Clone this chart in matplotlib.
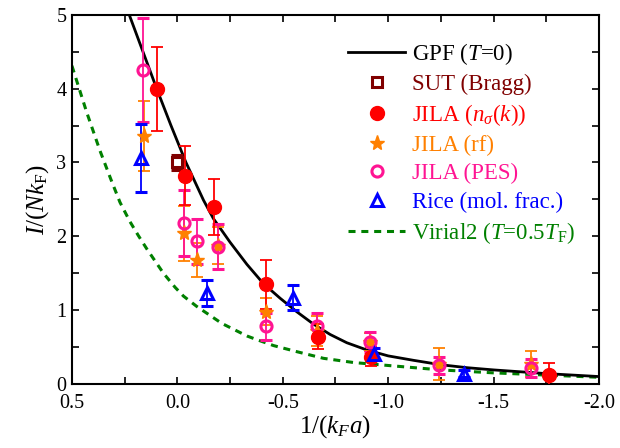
import matplotlib
matplotlib.use("Agg")
import matplotlib.pyplot as plt
from matplotlib.ticker import MultipleLocator, FuncFormatter
from matplotlib.lines import Line2D

plt.rcParams['font.family'] = ['Liberation Serif', 'DejaVu Serif']
plt.rcParams['mathtext.fontset'] = 'custom'
plt.rcParams['mathtext.rm'] = 'Liberation Serif'
plt.rcParams['mathtext.it'] = 'Liberation Serif:italic'
plt.rcParams['mathtext.cal'] = 'Liberation Serif:italic'

# GPF (T=0) curve
gpf_x = [0.26, 0.228, 0.163, 0.098, 0.03, -0.041, -0.08, -0.124, -0.171, -0.218,
         -0.25, -0.33, -0.393, -0.416, -0.488, -0.567, -0.646, -0.725, -0.804,
         -0.899, -1.0, -1.12, -1.25, -1.375, -1.5, -1.625, -1.75, -1.875, -2.0]
gpf_y = [5.25, 5.0, 4.5, 4.0, 3.5, 3.0, 2.76, 2.49, 2.24, 2.05,
         1.92, 1.62, 1.41, 1.34, 1.16, 0.977, 0.81, 0.67, 0.558,
         0.46, 0.38, 0.32, 0.26, 0.22, 0.19, 0.165, 0.14, 0.12, 0.10]

# Virial2 (T=0.5T_F) curve
vir_x = [0.5, 0.43, 0.367, 0.315, 0.272, 0.225, 0.185, 0.145, 0.066, 0.011,
         -0.029, -0.092, -0.211, -0.33, -0.377, -0.456, -0.567, -0.693, -0.836,
         -1.0, -1.25, -1.5, -1.75, -2.0]
vir_y = [4.31, 3.68, 3.16, 2.77, 2.46, 2.2, 2.01, 1.83, 1.5, 1.31,
         1.19, 1.05, 0.82, 0.65, 0.60, 0.52, 0.437, 0.347, 0.29,
         0.25, 0.19, 0.15, 0.12, 0.09]

# SUT (Bragg)
sut_x = [0.003]
sut_y = [3.0]
sut_e = [0.1]

# JILA (n_sigma(k))
nk_x = [0.095, -0.037, -0.176, -0.42, -0.667, -0.92, -1.762]
nk_y = [4.0, 2.82, 2.40, 1.35, 0.64, 0.37, 0.12]
nk_e = [0.57, 0.40, 0.38, 0.33, 0.17, 0.13, 0.16]

# JILA (rf)
rf_x = [0.16, -0.032, -0.092, -0.192, -0.42, -0.662, -0.912, -1.243, -1.68]
rf_y = [3.36, 2.04, 1.68, 1.87, 0.98, 0.72, 0.57, 0.27, 0.27]
rf_e = [0.47, 0.37, 0.23, 0.25, 0.18, 0.20, 0.12, 0.21, 0.18]

# JILA (PES)
pes_x = [0.161, -0.032, -0.092, -0.192, -0.42, -0.662, -0.912, -1.243, -1.68]
pes_y = [4.25, 2.18, 1.93, 1.86, 0.78, 0.79, 0.57, 0.25, 0.22]
pes_e = [0.70, 0.45, 0.31, 0.30, 0.18, 0.17, 0.14, 0.12, 0.12]

# Rice (mol. frac.)
rice_x = [0.174, -0.14, -0.548, -0.935, -1.361]
rice_y = [3.06, 1.23, 1.17, 0.41, 0.14]
rice_e = [0.46, 0.18, 0.17, 0.07, 0.05]

labels = ['GPF ($T$=0)', 'SUT (Bragg)', r'JILA ($n_\sigma(k)$)', 'JILA (rf)',
          'JILA (PES)', 'Rice (mol. frac.)', r'Virial2 ($T$=0.5$T_\mathrm{F}$)']
colors = ['black', '#800000', '#FF0000', '#FF8000', '#FF1493', '#0000FF', '#008000']

fig = plt.figure(figsize=(6.2, 4.48), dpi=100)
ax = fig.add_axes([0.116, 0.143, 0.850, 0.824])

ax.plot(gpf_x, gpf_y, color=colors[0], lw=2.0, zorder=3)
ax.plot(vir_x, vir_y, color=colors[6], lw=2.2, ls=(0, (2.3, 1.9)), zorder=2)

eb_kw = dict(capsize=4.2, elinewidth=1.3, capthick=1.3, ls='none', zorder=4)
ax.errorbar(sut_x, sut_y, yerr=sut_e, color=colors[1], marker='s', ms=7,
            mfc='white', mec=colors[1], mew=2.2, **eb_kw)
ax.errorbar(rf_x, rf_y, yerr=rf_e, color=colors[3], marker='*', ms=11,
            mfc=colors[3], mec=colors[3], **eb_kw)
ax.errorbar(pes_x, pes_y, yerr=pes_e, color=colors[4], marker='o', ms=8,
            mfc='none', mec=colors[4], mew=2.2, **eb_kw)
ax.errorbar(nk_x, nk_y, yerr=nk_e, color=colors[2], marker='o', ms=10,
            mfc=colors[2], mec=colors[2], **eb_kw)
ax.errorbar(rice_x, rice_y, yerr=rice_e, color=colors[5], marker='^', ms=9,
            mfc='none', mec=colors[5], mew=2.2, **eb_kw)

ax.set_xlim(0.5, -2.0)
ax.set_ylim(0, 5)
ax.xaxis.set_major_locator(MultipleLocator(0.5))
ax.xaxis.set_minor_locator(MultipleLocator(0.25))
ax.yaxis.set_major_locator(MultipleLocator(1))
ax.yaxis.set_minor_locator(MultipleLocator(0.5))
ax.xaxis.set_major_formatter(FuncFormatter(lambda v, p: f"{v:.1f}"))
ax.tick_params(which='both', direction='in', top=True, right=True, width=1.2,
               labelsize=14.5, length=5)
ax.tick_params(axis='x', which='both', pad=7)
ax.tick_params(axis='y', which='both', pad=4)
for s in ax.spines.values():
    s.set_linewidth(1.5)

ax.set_xlabel(r'1/($k_F a$)', fontsize=18, labelpad=0)
ax.set_ylabel(r'$\mathcal{I}$/($Nk_\mathrm{F}$)', fontsize=18, labelpad=4)

leg_handles = [
    Line2D([], [], color=colors[0], lw=2.0),
    Line2D([], [], ls='none', marker='s', ms=7, mfc='white', mec=colors[1], mew=2.2),
    Line2D([], [], ls='none', marker='o', ms=10, mfc=colors[2], mec=colors[2]),
    Line2D([], [], ls='none', marker='*', ms=11, mfc=colors[3], mec=colors[3]),
    Line2D([], [], ls='none', marker='o', ms=8, mfc='none', mec=colors[4], mew=2.2),
    Line2D([], [], ls='none', marker='^', ms=9, mfc='none', mec=colors[5], mew=2.2),
    Line2D([], [], color=colors[6], lw=2.2, ls=(0, (2.3, 1.9))),
]
leg = ax.legend(leg_handles, labels, loc='upper left', bbox_to_anchor=(0.524, 0.93),
                frameon=False, fontsize=16.5, handlelength=2.5, handletextpad=0.3,
                labelspacing=0.31, borderaxespad=0.0, borderpad=0.0)
for t, c in zip(leg.get_texts(), colors):
    t.set_color(c)

fig.savefig('out.png', dpi=100)
